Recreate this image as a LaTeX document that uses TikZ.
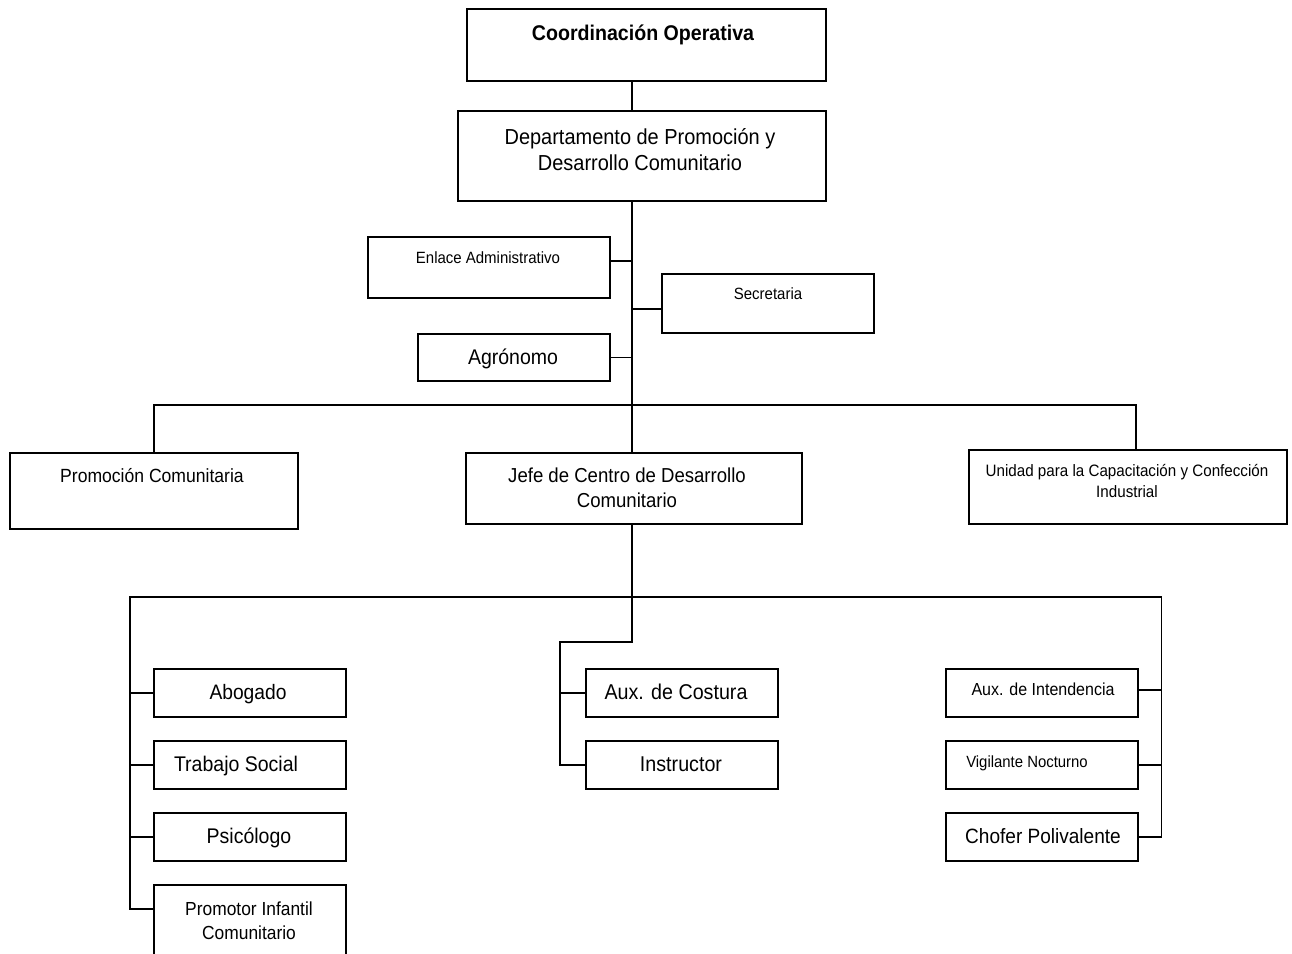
\documentclass[tikz,border=0pt]{standalone}
\usepackage{fontspec}
\setmainfont[FakeStretch=0.92]{Liberation Sans}
\newcommand\fs[2]{\fontsize{#1}{#2}\selectfont}
\begin{document}
\begin{tikzpicture}[x=1pt,y=-1pt,
  box/.style={draw,line width=1.6pt,rectangle,inner sep=0pt,anchor=north west},
  conn/.style={line width=1.6pt},
  lbl/.style={anchor=base,inner sep=0pt,align=center}]
\useasboundingbox[fill=white] (0,0) rectangle (1292,953);
% boxes
\node[box,minimum width=359pt,minimum height=72pt] (coord) at (466,8) {};
\node[box,minimum width=368pt,minimum height=90pt] (dept) at (457,110) {};
\node[box,minimum width=242pt,minimum height=61pt] (enlace) at (367,236) {};
\node[box,minimum width=212pt,minimum height=59pt] (secr) at (661,273) {};
\node[box,minimum width=192pt,minimum height=47pt] (agro) at (417,333) {};
\node[box,minimum width=288pt,minimum height=76pt] (promo) at (9,452) {};
\node[box,minimum width=336pt,minimum height=71pt] (jefe) at (465,452) {};
\node[box,minimum width=318pt,minimum height=74pt] (unidad) at (968,449) {};
\node[box,minimum width=192pt,minimum height=48pt] (abog) at (153,668) {};
\node[box,minimum width=192pt,minimum height=48pt] (trab) at (153,740) {};
\node[box,minimum width=192pt,minimum height=48pt] (psic) at (153,812) {};
\node[box,minimum width=192pt,minimum height=76pt] (prom) at (153,884) {};
\node[box,minimum width=192pt,minimum height=48pt] (auxc) at (585,668) {};
\node[box,minimum width=192pt,minimum height=48pt] (instr) at (585,740) {};
\node[box,minimum width=192pt,minimum height=48pt] (intend) at (945,668) {};
\node[box,minimum width=192pt,minimum height=48pt] (vigil) at (945,740) {};
\node[box,minimum width=192pt,minimum height=48pt] (chofer) at (945,812) {};
% labels
\node[lbl,font={\fs{21.3}{26}\bfseries}] (tcoord) at (643,40.3) {Coordinación Operativa};
\node[lbl,font={\fs{21.7}{26}}] (tdept) at (640,170.6) {Departamento de Promoción y\\Desarrollo Comunitario};
\node[lbl,font={\fs{16.3}{18}}] (tenlace) at (488,263.5) {Enlace Administrativo};
\node[lbl,font={\fs{16.3}{18}}] (tsecr) at (768,299.5) {Secretaria};
\node[lbl,font={\fs{21.2}{24}}] (tagro) at (513,364.2) {Agrónomo};
\node[lbl,font={\fs{19.1}{22}}] (tpromo) at (152,482.5) {Promoción Comunitaria};
\node[lbl,font={\fs{20.2}{25}}] (tjefe) at (627,507.9) {Jefe de Centro de Desarrollo\\Comunitario};
\node[lbl,font={\fs{16.5}{21}}] (tunidad) at (1127,497.7) {Unidad para la Capacitación y Confección\\Industrial};
\node[lbl,font={\fs{20.9}{24}}] (tabog) at (248,699.1) {Abogado};
\node[lbl,font={\fs{21.2}{24}}] (ttrab) at (236,771.2) {Trabajo Social};
\node[lbl,font={\fs{21.2}{24}}] (tpsic) at (249,843.2) {Psicólogo};
\node[lbl,font={\fs{18.9}{24}}] (tprom) at (249,939.5) {Promotor Infantil\\Comunitario};
\node[lbl,font={\fs{21.4}{24}}] (tauxc) at (676,699.3) {Aux. de Costura};
\node[lbl,font={\fs{21.4}{24}}] (tinstr) at (681,771.3) {Instructor};
\node[lbl,font={\fs{17.4}{20}}] (tintend) at (1043,695) {Aux. de Intendencia};
\node[lbl,font={\fs{16.2}{18}}] (tvigil) at (1027,767.5) {Vigilante Nocturno};
\node[lbl,font={\fs{20.7}{24}}] (tchofer) at (1043,843.6) {Chofer Polivalente};
% spine coordinates
\coordinate (sx) at (632,0);
\coordinate (ux) at (1136,0);
\coordinate (b1) at (632,405);
\coordinate (b2) at (632,597);
% connectors
\draw[conn] (coord.south -| sx) -- (dept.north -| sx);
\draw[conn] (dept.south -| sx) -- (jefe.north -| sx);
\draw[conn] ([yshift=6.5pt]enlace.east) -- ([yshift=6.5pt]enlace.east -| sx);
\draw[conn] ([yshift=-5.5pt]secr.west -| sx) -- ([yshift=-5.5pt]secr.west);
\draw[conn] (agro.east) -- (agro.east -| sx);
\draw[conn] (promo.north) |- (b1) -| (unidad.north -| ux);
\draw[conn] (jefe.south -| sx) -- (b2);
% left group
\draw[conn] (b2) -| ([xshift=-23pt,yshift=14pt]prom.west) -- ([yshift=14pt]prom.west);
\draw[conn] (abog.west) -- ++(-23,0);
\draw[conn] (trab.west) -- ++(-23,0);
\draw[conn] (psic.west) -- ++(-23,0);
% middle group
\draw[conn] (b2) -- ++(0,45) -| ([xshift=-25pt]instr.west) -- (instr.west);
\draw[conn] (auxc.west) -- ++(-25,0);
% right group
\draw[conn] (b2) -| ([xshift=23pt]chofer.east) -- (chofer.east);
\draw[conn] ([yshift=3pt]intend.east) -- ++(23,0);
\draw[conn] (vigil.east) -- ++(23,0);
\end{tikzpicture}
\end{document}
